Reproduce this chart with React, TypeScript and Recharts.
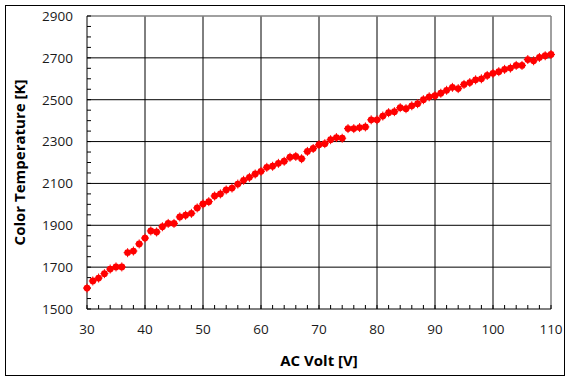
import React from 'react';
import {
  CartesianGrid,
  ReferenceLine,
  Scatter,
  ScatterChart,
  XAxis,
  YAxis
} from 'recharts';

const volts = [
  30, 31, 32, 33, 34, 35, 36, 37, 38, 39, 40, 41, 42, 43, 44, 45, 46, 47, 48, 49,
  50, 51, 52, 53, 54, 55, 56, 57, 58, 59, 60, 61, 62, 63, 64, 65, 66, 67, 68, 69,
  70, 71, 72, 73, 74, 75, 76, 77, 78, 79, 80, 81, 82, 83, 84, 85, 86, 87, 88, 89,
  90, 91, 92, 93, 94, 95, 96, 97, 98, 99, 100, 101, 102, 103, 104, 105, 106, 107,
  108, 109, 110
];

const colorTemps = [
  1600, 1634, 1648, 1669, 1691, 1701, 1701, 1769, 1777, 1811, 1839, 1873, 1868,
  1893, 1909, 1909, 1940, 1948, 1957, 1983, 2002, 2013, 2040, 2050, 2069, 2078,
  2097, 2115, 2129, 2145, 2158, 2177, 2182, 2196, 2206, 2225, 2229, 2218, 2253,
  2267, 2285, 2290, 2309, 2319, 2316, 2362, 2362, 2367, 2370, 2404, 2404, 2422,
  2438, 2443, 2462, 2457, 2471, 2481, 2500, 2514, 2519, 2531, 2545, 2559, 2553,
  2573, 2582, 2595, 2600, 2616, 2626, 2634, 2645, 2651, 2664, 2664, 2692, 2686,
  2702, 2710, 2716
];

// major ticks carry grid + labels, minor ticks are just the little inner marks
const xMajor = [30, 40, 50, 60, 70, 80, 90, 100, 110];
const xMinor = [
  30, 32, 34, 36, 38, 40, 42, 44, 46, 48, 50, 52, 54, 56, 58, 60, 62, 64, 66, 68,
  70, 72, 74, 76, 78, 80, 82, 84, 86, 88, 90, 92, 94, 96, 98, 100, 102, 104, 106,
  108, 110
];
const yMajor = [1500, 1700, 1900, 2100, 2300, 2500, 2700, 2900];
const yMinor = [
  1500, 1550, 1600, 1650, 1700, 1750, 1800, 1850, 1900, 1950, 2000, 2050, 2100,
  2150, 2200, 2250, 2300, 2350, 2400, 2450, 2500, 2550, 2600, 2650, 2700, 2750,
  2800, 2850, 2900
];

const data = volts.map((v, i) => ({ x: v, y: colorTemps[i] }));

const font = '"Open Sans", "Noto Sans", sans-serif';

const Marker = (props: any) => {
  const { cx, cy } = props;
  if (cx == null || cy == null) return null;
  return (
    <g>
      <line x1={cx} x2={cx} y1={cy - 4.5} y2={cy + 4.5} stroke="#ff0000" strokeWidth={1} />
      <line x1={cx - 4} x2={cx + 4} y1={cy} y2={cy} stroke="#ff0000" strokeWidth={1} />
      <circle cx={cx} cy={cy} r={3.4} fill="#ff0000" />
    </g>
  );
};

export default function App() {
  return (
    <div style={{ position: 'absolute', left: 0, top: 0, width: 570, height: 380 }}>
      <div
        style={{
          position: 'absolute',
          left: 5,
          top: 5,
          width: 558,
          height: 369,
          border: '1px solid #000'
        }}
      />
      <ScatterChart
        width={570}
        height={380}
        margin={{ top: 16, right: 19, left: 0, bottom: 0 }}
        style={{ position: 'absolute', left: 0, top: 0 }}
      >
        <CartesianGrid
          stroke="#000"
          strokeWidth={1}
          verticalCoordinatesGenerator={({ offset }: any) =>
            xMajor
              .filter((v) => v !== 30 && v !== 110)
              .map((v) => offset.left + ((v - 30) / 80) * offset.width)
          }
          horizontalCoordinatesGenerator={({ offset }: any) =>
            yMajor
              .filter((v) => v !== 1500 && v !== 2900)
              .map((v) => offset.top + ((2900 - v) / 1400) * offset.height)
          }
        />
        <ReferenceLine y={2900} stroke="#808080" strokeWidth={1.5} ifOverflow="extendDomain" />
        <ReferenceLine x={110} stroke="#808080" strokeWidth={1.5} ifOverflow="extendDomain" />
        <XAxis
          type="number"
          dataKey="x"
          domain={[30, 110]}
          ticks={xMinor}
          interval={0}
          height={71}
          tickSize={-4}
          tickMargin={19}
          stroke="#000"
          tick={{ fontSize: 13.5, fill: '#1a1a1a', fontFamily: font }}
          tickFormatter={(v: number) => (xMajor.includes(v) ? String(v) : '')}
          label={{
            value: 'AC Volt [V]',
            position: 'insideBottom',
            offset: 14,
            style: { fontSize: 15, fontWeight: 700, fill: '#000', fontFamily: font }
          }}
        />
        <YAxis
          type="number"
          dataKey="y"
          domain={[1500, 2900]}
          ticks={yMinor}
          interval={0}
          width={87}
          tickSize={-4}
          tickMargin={18}
          stroke="#000"
          tick={{ fontSize: 13.5, fill: '#1a1a1a', fontFamily: font }}
          tickFormatter={(v: number) => (yMajor.includes(v) ? String(v) : '')}
          label={{
            value: 'Color Temperature [K]',
            angle: -90,
            position: 'insideLeft',
            offset: 20,
            style: {
              fontSize: 15,
              fontWeight: 700,
              fill: '#000',
              fontFamily: font,
              textAnchor: 'middle'
            }
          }}
        />
        <Scatter data={data} shape={<Marker />} isAnimationActive={false} />
      </ScatterChart>
    </div>
  );
}
